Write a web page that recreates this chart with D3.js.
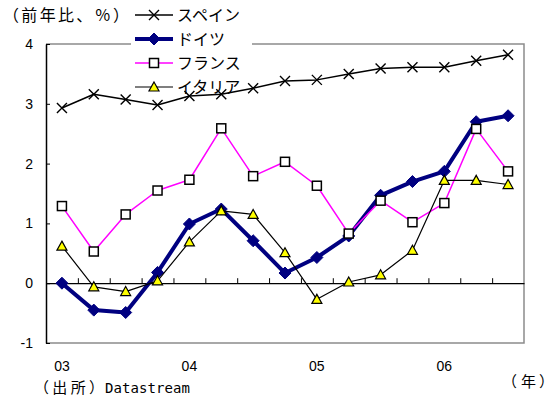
<!DOCTYPE html>
<html>
<head>
<meta charset="utf-8">
<script src="https://cdn.jsdelivr.net/npm/d3@7/dist/d3.min.js"></script>
<style>
  html, body { margin: 0; padding: 0; background: #fff; }
  svg { display: block; }
</style>
</head>
<body>
<svg id="chart" width="555" height="396"></svg>
<script>
// Quarterly periods, 2003Q1 – 2006Q3
const quarters = ["03Q1","03Q2","03Q3","03Q4","04Q1","04Q2","04Q3","04Q4",
                  "05Q1","05Q2","05Q3","05Q4","06Q1","06Q2","06Q3"];
const yearLabels = ["03","04","05","06"];
const yTicks = [-1, 0, 1, 2, 3, 4];

// Year-on-year change, %
const spain   = [2.93, 3.16, 3.07, 2.98, 3.13, 3.16, 3.26, 3.38, 3.40, 3.50, 3.59, 3.61, 3.61, 3.72, 3.82];
const germany = [0.00, -0.45, -0.49, 0.18, 0.99, 1.24, 0.71, 0.17, 0.43, 0.79, 1.47, 1.70, 1.87, 2.70, 2.80];
const france  = [1.29, 0.53, 1.15, 1.55, 1.73, 2.59, 1.79, 2.03, 1.63, 0.83, 1.38, 1.02, 1.34, 2.58, 1.87];
const italy   = [0.62, -0.06, -0.14, 0.04, 0.69, 1.21, 1.15, 0.51, -0.27, 0.02, 0.14, 0.55, 1.72, 1.72, 1.65];

const seriesNames = ["スペイン", "ドイツ", "フランス", "イタリア"];

const svg = d3.select("#chart");
const plotLeft = 46, plotRight = 524, plotTop = 44, plotBottom = 343;

const x = d3.scaleBand().domain(d3.range(quarters.length)).range([plotLeft, plotRight]);
const cx = i => x(i) + x.bandwidth() / 2;
const y = d3.scaleLinear().domain([-1, 4]).range([plotBottom, plotTop]);

const jp = "'Noto Sans CJK JP', 'Noto Sans', sans-serif";
const num = "'Liberation Sans', Arial, sans-serif";

// plot frame
svg.append("path")
  .attr("d", `M${plotLeft},${plotTop}H${plotRight}V${plotBottom}H${plotLeft}`)
  .attr("fill", "none").attr("stroke", "#8c8c8c").attr("stroke-width", 1.5);

// y axis with inward ticks
const yAxis = svg.append("g")
  .attr("transform", `translate(${plotLeft},0)`)
  .call(d3.axisRight(y).tickValues(yTicks).tickSize(4).tickSizeOuter(0).tickFormat(""));
yAxis.select(".domain").attr("stroke", "#000").attr("stroke-width", 1.5);
yAxis.selectAll(".tick line").attr("stroke", "#000");

svg.append("g").selectAll("text").data(yTicks).join("text")
  .attr("x", 33).attr("y", d => y(d)).attr("dy", "0.36em")
  .attr("text-anchor", "end")
  .attr("font-family", num).attr("font-size", 14).attr("fill", "#000")
  .text(d => d);

// zero line with category boundary ticks
const zeroAxis = svg.append("g")
  .attr("transform", `translate(0,${y(0)})`)
  .call(d3.axisTop(d3.scaleLinear().domain([0, quarters.length]).range([plotLeft, plotRight]))
    .tickValues(d3.range(1, quarters.length)).tickSize(5).tickSizeOuter(0).tickFormat(""));
zeroAxis.select(".domain").attr("stroke", "#000").attr("stroke-width", 1.2);
zeroAxis.selectAll(".tick line").attr("stroke", "#000");

// year labels under the first quarter of each year
svg.append("g").selectAll("text").data(yearLabels).join("text")
  .attr("x", (d, i) => cx(i * 4)).attr("y", 371)
  .attr("text-anchor", "middle")
  .attr("font-family", num).attr("font-size", 14).attr("fill", "#000")
  .text(d => d);

// titles and notes
svg.append("text").attr("x", 3).attr("y", 21)
  .attr("font-family", jp).attr("font-size", 16).attr("fill", "#000")
  .attr("textLength", 126).attr("lengthAdjust", "spacing")
  .text("（前年比、％）");
const src = svg.append("text").attr("y", 393).attr("fill", "#000");
src.append("tspan").attr("x", 34)
  .attr("font-family", jp).attr("font-size", 15)
  .attr("textLength", 70).attr("lengthAdjust", "spacing")
  .text("（出所）");
src.append("tspan").attr("x", 105)
  .attr("font-family", "'DejaVu Sans Mono', monospace").attr("font-size", 14)
  .attr("textLength", 85).attr("lengthAdjust", "spacing")
  .text("Datastream");
svg.append("text").attr("x", "502 521 539").attr("y", 387)
  .attr("font-family", jp).attr("font-size", 15).attr("fill", "#000")
  .text("（年）");

// legend background
svg.append("rect").attr("x", 131).attr("y", 3).attr("width", 121).attr("height", 86)
  .attr("fill", "#fff");

// marker drawers
const markers = {
  cross: (g, s) => g.append("path")
    .attr("d", `M${-s},${-s}L${s},${s}M${-s},${s}L${s},${-s}`)
    .attr("stroke", "#000").attr("stroke-width", 1.4).attr("fill", "none"),
  diamond: (g, s) => g.append("path")
    .attr("d", `M0,${-s}L${s},0L0,${s}L${-s},0Z`)
    .attr("fill", "#000080").attr("stroke", "#000080").attr("stroke-width", 1),
  square: (g, s) => g.append("rect")
    .attr("x", -s).attr("y", -s).attr("width", 2 * s).attr("height", 2 * s)
    .attr("fill", "#fff").attr("stroke", "#000").attr("stroke-width", 1.5),
  triangle: (g, s) => g.append("path")
    .attr("d", `M0,${-s}L${s},${s * 0.8}L${-s},${s * 0.8}Z`)
    .attr("fill", "#ffff00").attr("stroke", "#000").attr("stroke-width", 1.2)
};

const series = [
  { name: seriesNames[0], values: spain,   color: "#000",    width: 1.5, marker: "cross",    size: 5 },
  { name: seriesNames[1], values: germany, color: "#000080", width: 4,   marker: "diamond",  size: 6 },
  { name: seriesNames[2], values: france,  color: "#ff00ff", width: 1.5, marker: "square",   size: 4.5 },
  { name: seriesNames[3], values: italy,   color: "#000",    width: 1.2, marker: "triangle", size: 5 }
];

// legend entries
series.forEach((s, k) => {
  const ly = 15 + k * 24;
  const g = svg.append("g");
  g.append("line").attr("x1", 135).attr("x2", 173).attr("y1", ly).attr("y2", ly)
    .attr("stroke", s.color).attr("stroke-width", s.width);
  markers[s.marker](g.append("g").attr("transform", `translate(154,${ly})`), s.size);
  g.append("text").attr("x", 177).attr("y", ly).attr("dy", "0.36em")
    .attr("font-family", jp).attr("font-size", 16).attr("fill", "#000")
    .text(s.name);
});

// series lines and markers
const line = d3.line().x((d, i) => cx(i)).y(d => y(d));
series.forEach(s => {
  const g = svg.append("g");
  g.append("path").datum(s.values).attr("d", line)
    .attr("fill", "none").attr("stroke", s.color).attr("stroke-width", s.width)
    .attr("stroke-linejoin", "round");
  s.values.forEach((v, i) => {
    markers[s.marker](g.append("g").attr("transform", `translate(${cx(i)},${y(v)})`), s.size);
  });
});
</script>
</body>
</html>
